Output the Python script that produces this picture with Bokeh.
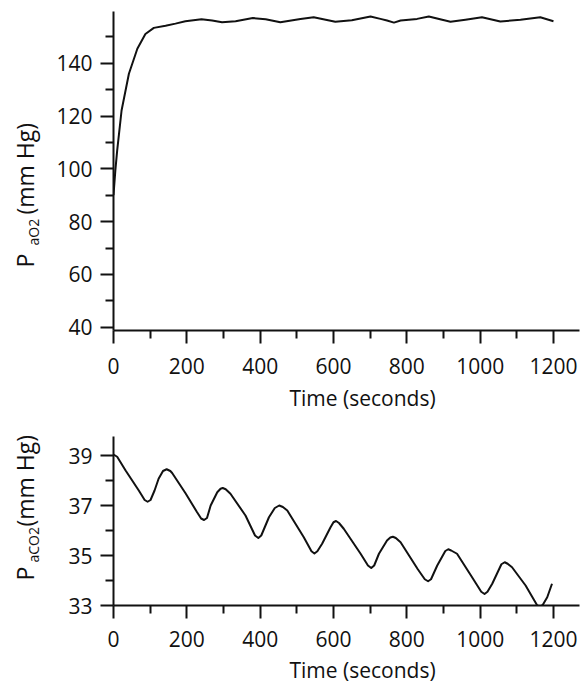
import math
from bokeh.plotting import figure
from bokeh.layouts import column, row
from bokeh.models import FixedTicker, Range1d
from bokeh.core.properties import value
from bokeh.embed import file_html
from bokeh.resources import INLINE

# ---------------- data ----------------
time_o2 = [0, 5, 10, 22, 42, 65, 87, 110, 142, 169, 196, 240, 269, 296, 333, 380,
           415, 455, 510, 546, 605, 650, 701, 728, 746, 765, 783, 828, 860, 919,
           960, 1005, 1055, 1110, 1164, 1200]
pao2 = [90.0, 99.3, 106.9, 122.1, 136.0, 145.5, 151.1, 153.4, 154.2, 155.0, 155.9,
        156.7, 156.2, 155.5, 155.9, 157.1, 156.7, 155.5, 156.8, 157.4, 155.7, 156.3,
        157.7, 156.8, 156.2, 155.4, 156.2, 156.8, 157.7, 155.7, 156.5, 157.4, 155.8,
        156.5, 157.4, 155.9]

time_co2 = [0, 10, 33, 69, 85, 93, 101, 112, 123, 135, 145, 155, 160, 196, 228, 239,
            247, 255, 265, 283, 292, 298, 306, 319, 360, 386, 395, 403, 424, 440,
            452, 462, 474, 519, 540, 548, 556, 569, 592, 600, 607, 615, 628, 674,
            694, 703, 711, 724, 746, 755, 762, 770, 783, 830, 849, 858, 866, 883,
            905, 913, 921, 937, 978, 1003, 1012, 1020, 1033, 1058, 1067, 1075,
            1087, 1124, 1155, 1163, 1171, 1183, 1196]
paco2 = [39.04, 38.95, 38.4, 37.6, 37.22, 37.15, 37.22, 37.6, 38.07, 38.38, 38.45,
         38.38, 38.3, 37.5, 36.73, 36.48, 36.42, 36.5, 37.0, 37.53, 37.67, 37.7,
         37.65, 37.47, 36.6, 35.8, 35.7, 35.8, 36.53, 36.9, 37.0, 36.94, 36.8,
         35.73, 35.17, 35.08, 35.17, 35.47, 36.13, 36.33, 36.38, 36.3, 36.07, 35.07,
         34.6, 34.5, 34.6, 35.07, 35.6, 35.72, 35.75, 35.7, 35.53, 34.45, 34.05,
         33.97, 34.05, 34.6, 35.18, 35.25, 35.2, 35.07, 34.13, 33.55, 33.46, 33.55,
         33.87, 34.65, 34.73, 34.67, 34.53, 33.8, 33.02, 32.95, 33.03, 33.33, 33.87]

x_ticks = [0, 200, 400, 600, 800, 1000, 1200]
x_minor = [100, 300, 500, 700, 900, 1100]
o2_ticks = [40, 60, 80, 100, 120, 140]
o2_minor = [50, 70, 90, 110, 130, 150]
co2_ticks = [33, 35, 37, 39]
co2_minor = [34, 36, 38]

x_label = "Time (seconds)"

# ---------------- style / geometry ----------------
FONT = "Open Sans"
INK = "#111111"
LEFT_W = 45          # strip that holds the rotated y labels
COL_W = 584 - LEFT_W
FRAME_W = 466
X_END = 1271
TICK_SIZE = "21px"
MID = 0.36           # anchor-to-baseline shift of the text glyph, in em


def make_fig(y0, y1, frame_h, border_top, border_bottom, yticks, yminor, xstand):
    p = figure(frame_width=FRAME_W, frame_height=frame_h,
               x_range=Range1d(0, X_END), y_range=Range1d(y0, y1),
               output_backend="svg", toolbar_location=None,
               min_border_left=113 - LEFT_W, min_border_right=COL_W - (113 - LEFT_W) - FRAME_W,
               min_border_top=border_top, min_border_bottom=border_bottom,
               background_fill_color="white", border_fill_color="white")
    p.outline_line_color = None
    p.xgrid.visible = False
    p.ygrid.visible = False
    p.xaxis.ticker = FixedTicker(ticks=x_ticks, minor_ticks=x_minor)
    p.yaxis.ticker = FixedTicker(ticks=yticks, minor_ticks=yminor)
    for ax in (p.xaxis[0], p.yaxis[0]):
        ax.axis_line_width = 2
        ax.axis_line_color = INK
        ax.major_tick_line_width = 2
        ax.minor_tick_line_width = 2
        ax.major_tick_line_color = INK
        ax.minor_tick_line_color = INK
        ax.major_tick_in = 0
        ax.major_tick_out = 13
        ax.minor_tick_in = 0
        ax.minor_tick_out = 8
        ax.major_label_text_font = FONT
        ax.major_label_text_font_size = TICK_SIZE
        ax.major_label_text_color = INK
        ax.axis_label_standoff = 0
    p.xaxis.major_label_standoff = xstand
    p.yaxis.major_label_standoff = 8
    return p


def text_strip(w, h):
    """A bare figure whose data space is its own pixel grid (y downward)."""
    s = figure(width=w, height=h, x_range=Range1d(0, w), y_range=Range1d(h, 0),
               x_axis_type=None, y_axis_type=None, output_backend="svg",
               toolbar_location=None, min_border=0, min_border_left=0,
               min_border_right=0, min_border_top=0, min_border_bottom=0,
               background_fill_color="white", border_fill_color="white")
    s.outline_line_color = None
    return s


def put(s, txt, x, y, size_px, angle=0.0, align="left"):
    # (x, y) is where the text baseline starts; the glyph anchors a bit above it
    shift = MID * size_px
    if angle:
        x -= shift
    else:
        y -= shift
    s.text(x=[x], y=[y], text=[txt], angle=angle, text_font=value(FONT),
           text_font_size=value(f"{size_px}px"), text_color=INK, text_align=align,
           text_baseline="alphabetic")


# ---------------- y-label strip ----------------
ylab = text_strip(LEFT_W, 684)
up = math.pi / 2
put(ylab, "P", 33, 267, 23, up)
put(ylab, "aO2", 38, 245, 14, up)
put(ylab, "(mm Hg)", 33, 214, 23, up)
put(ylab, "P", 33, 580, 23, up)
put(ylab, "aCO2", 38, 562, 14, up)
put(ylab, "(mm Hg)", 33, 526, 23, up)

# ---------------- top panel (0 .. 382) ----------------
top = make_fig(38.75, 159.6, 319, 11, 52, o2_ticks, o2_minor, 14)
top.line(time_o2, pao2, line_width=2, line_color=INK, line_join="round")
t1 = text_strip(COL_W, 40)                     # 382 .. 422
put(t1, x_label, 333 - LEFT_W, 405 - 382, 21, align="center")

# ---------------- bottom panel (422 .. 655) ----------------
bot = make_fig(33.0, 39.76, 169, 14, 50, co2_ticks, co2_minor, 12)
bot.line(time_co2, paco2, line_width=2, line_color=INK, line_join="round")
t2 = text_strip(COL_W, 29)                     # 655 .. 684
put(t2, x_label, 333 - LEFT_W, 677 - 655, 21, align="center")

layout = row(ylab, column(top, t1, bot, t2, spacing=0), spacing=0)
open("out.html", "w").write(file_html(layout, INLINE))
